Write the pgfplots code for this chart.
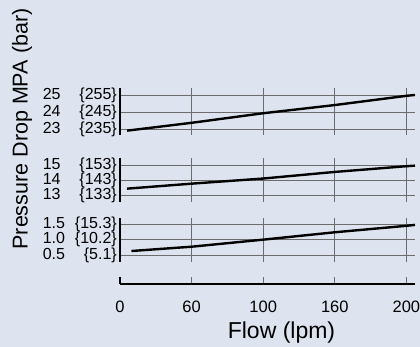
\documentclass[border=0pt]{standalone}
\usepackage{fontspec}
\setmainfont{Liberation Sans}
\usepackage{pgfplots}
\pgfplotsset{compat=1.18}
\definecolor{bg}{RGB}{221,228,239}
\newcommand\tl[2]{\makebox[74pt][l]{#1\hfill\{#2\}}}
\pgfplotsset{
  panel/.style={
    scale only axis, width=295pt,
    xmin=0, xmax=206,
    xtick={0,50,100,150,200}, xticklabels={},
    axis lines*=left,
    x axis line style={draw=none},
    y axis line style={line width=2.5pt, black},
    grid=major,
    grid style={gray!85!black, line width=0.7pt},
    tick style={draw=none},
    yticklabel style={inner sep=0pt, xshift=-3pt, font=\fontsize{16}{18}\selectfont},
  },
  curve/.style={black, line width=2.4pt, no markers},
}
\begin{document}
\begin{tikzpicture}
\path[use as bounding box, fill=bg] (0,0) rectangle (420pt,347pt);

% top panel
\begin{axis}[panel, at={(120pt,212pt)}, anchor=south west, height=47pt,
  ymin=22.7, ymax=25.4, ytick={23,24,25},
  yticklabels={\tl{23}{235},\tl{24}{245},\tl{25}{255}}]
\addplot[curve] coordinates {(5,22.95) (50,23.4) (100,23.95) (150,24.42) (200,24.95) (206,25.0)};
\end{axis}

% middle panel
\begin{axis}[panel, at={(120pt,145.3pt)}, anchor=south west, height=43.4pt,
  ymin=12.54, ymax=15.5, ytick={13,14,15},
  yticklabels={\tl{13}{133},\tl{14}{143},\tl{15}{153}}]
\addplot[curve] coordinates {(5,13.43) (50,13.77) (100,14.12) (150,14.57) (200,14.96) (206,15.0)};
\end{axis}

% bottom panel
\begin{axis}[panel, at={(120pt,85.3pt)}, anchor=south west, height=43.4pt,
  ymin=0.282, ymax=1.695, ytick={0.5,1.0,1.5},
  yticklabels={\tl{0.5}{5.1},\tl{1.0}{10.2},\tl{1.5}{15.3}}]
\addplot[curve] coordinates {(8,0.63) (50,0.77) (100,1.0) (150,1.24) (200,1.45) (206,1.48)};
\end{axis}

% x axis
\begin{axis}[scale only axis, width=295pt, height=10pt,
  at={(120pt,63pt)}, anchor=south west,
  xmin=0, xmax=206, ymin=0, ymax=1,
  axis x line*=bottom, axis y line=none,
  x axis line style={line width=2pt, black},
  xtick={0,50,100,150,200}, xticklabels={0,60,100,160,200},
  xtick align=inside, major tick length=7pt,
  tick style={gray!85!black, line width=0.7pt},
  extra x ticks={0}, extra x tick labels={},
  extra x tick style={major tick style={black, line width=2pt}},
  xticklabel style={inner sep=0pt, anchor=north, yshift=-17pt, font=\fontsize{16.5}{18}\selectfont}]
\addplot[draw=none] coordinates {(0,0) (200,0)};
\end{axis}

\node[rotate=90, font=\fontsize{21.5}{24}\selectfont] at (22pt,218pt) {Pressure Drop MPA (bar)};
\node[font=\fontsize{23}{26}\selectfont] at (281.5pt,14pt) {Flow (lpm)};
\end{tikzpicture}
\end{document}
